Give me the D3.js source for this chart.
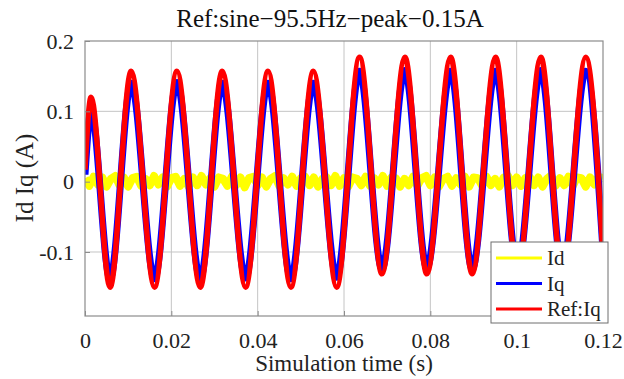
<!DOCTYPE html>
<html>
<head>
<meta charset="utf-8">
<script src="https://cdn.jsdelivr.net/npm/d3@7"></script>
<style>
  body { margin: 0; background: #fff; }
</style>
</head>
<body>
<svg id="chart"></svg>
<script>
const margin = {top: 41, right: 21, bottom: 63, left: 85},
  W = 624, H = 379,
  width = W - margin.left - margin.right,
  height = H - margin.top - margin.bottom;
const serif = "'Liberation Serif', 'Times New Roman', Times, serif";

const titleText = 'Ref:sine\u221295.5Hz\u2212peak\u22120.15A';
const xTicks = [0, 0.02, 0.04, 0.06, 0.08, 0.1, 0.12];
const yTicks = [-0.1, 0, 0.1, 0.2];
const seriesNames = ['Id', 'Iq', 'Ref:Iq'];
const seriesColors = ['#ffff00', '#0000ff', '#ff0000'];

// extremes of the Iq / Ref:Iq waves (s)
const waveTimes = [0, 0.0014, 0.0058, 0.0107, 0.0161, 0.0213, 0.0267, 0.0318, 0.0372, 0.0424, 0.0477, 0.0529,
  0.0583, 0.0636, 0.0688, 0.0741, 0.0792, 0.0847, 0.0897, 0.0951, 0.1002, 0.1056, 0.1106, 0.1160, 0.12];
const refIq = [0.017, 0.12, -0.15, 0.157, -0.15, 0.157, -0.15, 0.157, -0.15, 0.157, -0.15, 0.157,
  -0.15, 0.177, -0.131, 0.177, -0.131, 0.177, -0.131, 0.177, -0.131, 0.177, -0.131, 0.177, -0.105];
const iq = [0.01, 0.1, -0.138, 0.14, -0.138, 0.141, -0.138, 0.14, -0.137, 0.14, -0.138, 0.14,
  -0.136, 0.157, -0.124, 0.158, -0.123, 0.157, -0.124, 0.157, -0.123, 0.158, -0.124, 0.157, -0.098];

// Id sampled every 1 ms
const idStep = 0.001;
const id = [0.005, -0.006, 0.007, -0.004, 0.006, -0.007, 0.004, 0.008, -0.005, 0.006, -0.007, 0.005, 0.007, -0.006, 0.004, -0.005, 0.008, -0.004, 0.006, -0.007,
  0.005, 0.007, -0.006, 0.004, -0.007, 0.006, -0.005, 0.008, -0.004, 0.005, -0.007, 0.006, 0.004, -0.006, 0.007, -0.005, 0.006, -0.008, 0.005, 0.007,
  -0.005, 0.006, -0.007, 0.004, 0.008, -0.006, 0.005, -0.004, 0.007, -0.006, 0.005, 0.007, -0.005, 0.006, -0.007, 0.004, 0.006, -0.005, 0.008, -0.006,
  0.005, -0.007, 0.006, 0.004, -0.005, 0.007, -0.006, 0.005, -0.004, 0.008, -0.006, 0.006, 0.005, -0.007, 0.004, -0.005, 0.007, -0.006, 0.005, 0.008,
  -0.005, 0.006, -0.007, 0.004, 0.007, -0.006, 0.005, -0.004, 0.007, -0.007, 0.006, 0.005, -0.006, 0.007, -0.005, 0.004, -0.007, 0.006, 0.008, -0.005,
  0.006, -0.006, 0.005, 0.007, -0.005, 0.006, -0.007, 0.004, 0.009, -0.006, 0.005, -0.005, 0.007, -0.006, 0.006, 0.005, -0.007, 0.006, -0.004, 0.007, 0.005];

const svg = d3.select('#chart').attr('width', W).attr('height', H);
const g = svg.append('g').attr('transform', `translate(${margin.left},${margin.top})`);

const x = d3.scaleLinear().domain([0, 0.12]).range([0, width]);
const y = d3.scaleLinear().domain([-0.191, 0.2]).range([height, 0]);

g.append('rect').attr('width', width).attr('height', height).attr('fill', '#fff');

// grid
g.append('g').selectAll('line').data(xTicks.slice(1, -1)).join('line')
  .attr('x1', d => x(d)).attr('x2', d => x(d)).attr('y1', 0).attr('y2', height)
  .attr('stroke', '#c4c4c4').attr('stroke-width', 1);
g.append('g').selectAll('line').data(yTicks.filter(d => d < 0.2)).join('line')
  .attr('x1', 0).attr('x2', width).attr('y1', d => y(d)).attr('y2', d => y(d))
  .attr('stroke', '#c4c4c4').attr('stroke-width', 1);

svg.append('clipPath').attr('id', 'plotclip')
  .append('rect').attr('width', width).attr('height', height);

const plot = g.append('g').attr('clip-path', 'url(#plotclip)');

const waveLine = d3.line().x(d => x(d[0])).y(d => y(d[1])).curve(d3.curveMonotoneX);
const idLine = d3.line().x((d, i) => x(i * idStep)).y(d => y(d));

plot.append('path').datum(id).attr('d', idLine)
  .attr('fill', 'none').attr('stroke', seriesColors[0]).attr('stroke-width', 8).attr('stroke-linejoin', 'round');
plot.append('path').datum(d3.zip(waveTimes, iq)).attr('d', waveLine)
  .attr('fill', 'none').attr('stroke', seriesColors[1]).attr('stroke-width', 7);
plot.append('path').datum(d3.zip(waveTimes, refIq)).attr('d', waveLine)
  .attr('fill', 'none').attr('stroke', seriesColors[2]).attr('stroke-width', 5.5);

// axes box
g.append('rect').attr('width', width).attr('height', height)
  .attr('fill', 'none').attr('stroke', '#8c8c8c').attr('stroke-width', 1.2);

const xAxis = d3.axisBottom(x).tickValues(xTicks).tickSize(-5).tickPadding(16)
  .tickFormat(d => d === 0 ? '0' : String(+d.toFixed(2)));
const yAxis = d3.axisLeft(y).tickValues(yTicks).tickSize(-5).tickPadding(11)
  .tickFormat(d => d === 0 ? '0' : String(+d.toFixed(1)));

const gx = g.append('g').attr('transform', `translate(0,${height})`).call(xAxis);
const gy = g.append('g').call(yAxis);
[gx, gy].forEach(a => {
  a.attr('font-family', serif).attr('font-size', 22);
  a.select('.domain').remove();
  a.selectAll('line').attr('stroke', '#8c8c8c');
  a.selectAll('text').attr('fill', '#222');
});

svg.append('text').attr('x', 330).attr('y', 27).attr('text-anchor', 'middle')
  .attr('font-family', serif).attr('font-size', 25).attr('fill', '#111').text(titleText);
svg.append('text').attr('x', 344).attr('y', 371).attr('text-anchor', 'middle')
  .attr('font-family', serif).attr('font-size', 23).attr('fill', '#222').text('Simulation time (s)');
svg.append('text').attr('transform', 'translate(33,178) rotate(-90)').attr('text-anchor', 'middle')
  .attr('font-family', serif).attr('font-size', 25).attr('fill', '#222').text('Id Iq (A)');

// legend
const lg = svg.append('g').attr('transform', 'translate(491,242)');
lg.append('rect').attr('width', 117).attr('height', 81)
  .attr('fill', '#fff').attr('stroke', '#6e6e6e').attr('stroke-width', 1);
const item = lg.selectAll('.item').data(seriesNames).join('g').attr('class', 'item')
  .attr('transform', (d, i) => `translate(0,${16 + i * 25.5})`);
item.append('line').attr('x1', 5).attr('x2', 51).attr('y1', 0).attr('y2', 0)
  .attr('stroke', (d, i) => seriesColors[i]).attr('stroke-width', 3);
item.append('text').attr('x', 56).attr('y', 7).attr('font-family', serif).attr('font-size', 21)
  .attr('fill', '#222').text(d => d);
</script>
</body>
</html>
